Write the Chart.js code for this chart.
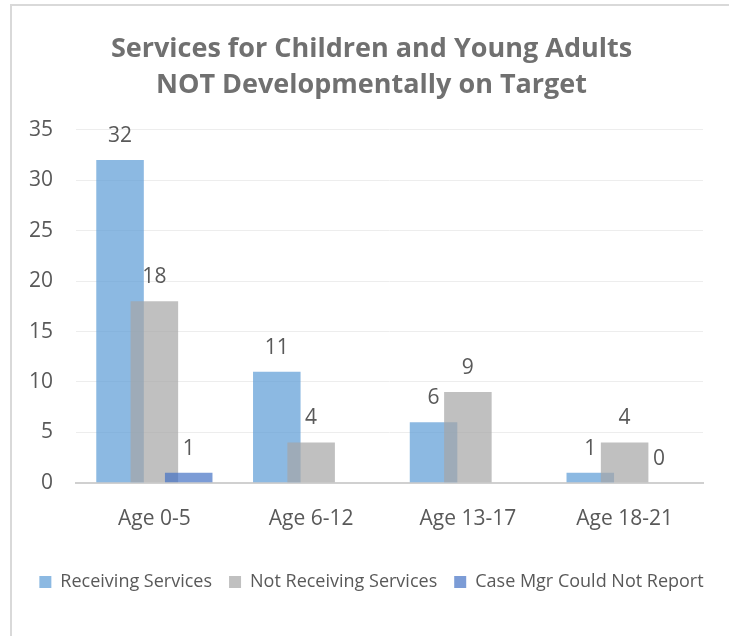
<!DOCTYPE html>
<html>
<head>
<meta charset="utf-8">
<script src="https://cdn.jsdelivr.net/npm/chart.js@4.4.0/dist/chart.umd.min.js"></script>
<style>
  html, body { margin: 0; padding: 0; background: #fff; }
  #wrap { width: 729px; height: 636px; position: relative; }
</style>
</head>
<body>
<div id="wrap"><canvas id="graficoServicos"></canvas></div>
<script>
var categorias = ["Age 0-5", "Age 6-12", "Age 13-17", "Age 18-21"];
var recebendo = [32, 11, 6, 1];
var naoRecebendo = [18, 4, 9, 4];
var naoInformado = [1, 0, 0, 0];

var cinzaTexto = '#595959';
var fonte = "'Open Sans', sans-serif";

// moldura cinza (so topo e esquerda aparecem na imagem)
var moldura = {
    id: 'moldura',
    beforeDraw: function (chart) {
        var c = chart.ctx;
        c.save();
        c.fillStyle = '#D9D9D9';
        c.fillRect(10, 4, chart.width - 10, 2);
        c.fillRect(10, 4, 2, chart.height - 4);
        c.restore();
    }
};

// desenha as series na ordem do indice (a primeira fica por baixo, como no Excel)
var ordemExcel = {
    id: 'ordemExcel',
    beforeDatasetsDraw: function (chart) {
        for (var i = 0; i < chart.data.datasets.length; i++) {
            chart.getDatasetMeta(i).controller.draw();
        }
        return false;
    }
};

// rotulos de valor acima das barras
var rotulos = {
    id: 'rotulos',
    afterDraw: function (chart) {
        var c = chart.ctx;
        c.save();
        c.font = "21px " + fonte;
        c.fillStyle = cinzaTexto;
        c.textAlign = 'center';
        c.textBaseline = 'middle';
        chart.data.datasets.forEach(function (ds, i) {
            var meta = chart.getDatasetMeta(i);
            meta.data.forEach(function (bar, j) {
                if (ds.data[j] === 0 && i === 2 && j !== 3) return;
                c.fillText(ds.data[j], bar.x, bar.y - 24);
            });
        });
        c.restore();
    }
};

var ctx = document.getElementById("graficoServicos");

var myChart = new Chart(ctx, {
    type: 'bar',
    data: {
        labels: categorias,
        datasets: [{
            label: 'Receiving Services',
            data: recebendo,
            backgroundColor: 'rgba(91, 155, 213, 0.7)',
            borderWidth: 0
        }, {
            label: 'Not Receiving Services',
            data: naoRecebendo,
            backgroundColor: 'rgba(165, 165, 165, 0.7)',
            borderWidth: 0
        }, {
            label: 'Case Mgr Could Not Report',
            data: naoInformado,
            backgroundColor: 'rgba(68, 114, 196, 0.7)',
            borderWidth: 0
        }]
    },
    options: {
        responsive: true,
        maintainAspectRatio: false,
        animation: false,
        categoryPercentage: 0.657,
        barPercentage: 1.385,
        layout: {
            padding: { left: 20, right: 6, top: 10, bottom: 35 }
        },
        plugins: {
            title: {
                display: true,
                text: ['Services for Children and Young Adults', 'NOT Developmentally on Target'],
                color: '#707070',
                font: { family: fonte, size: 27, weight: 'bold', lineHeight: 1.33 },
                padding: { top: 21, bottom: 27 }
            },
            legend: {
                position: 'bottom',
                labels: {
                    color: cinzaTexto,
                    font: { family: fonte, size: 18 },
                    boxWidth: 12,
                    boxHeight: 12,
                    padding: 17
                }
            },
            tooltip: { enabled: false }
        },
        scales: {
            x: {
                grid: { display: false, drawTicks: false },
                border: { color: '#D0D0D0', width: 2 },
                ticks: { color: cinzaTexto, font: { family: fonte, size: 21 }, padding: 24 }
            },
            y: {
                min: 0,
                max: 35,
                ticks: { stepSize: 5, color: cinzaTexto, font: { family: fonte, size: 21 }, padding: 23 },
                grid: { color: '#EDEDED', drawTicks: false },
                border: { display: false },
                afterFit: function (s) { s.width = 56; }
            },
            // eixo vazio so para deixar a margem direita
            margemDireita: {
                position: 'right',
                ticks: { display: false },
                grid: { display: false, drawTicks: false },
                border: { display: false },
                afterFit: function (s) { s.width = 20; }
            }
        }
    },
    plugins: [moldura, ordemExcel, rotulos]
});
</script>
</body>
</html>
